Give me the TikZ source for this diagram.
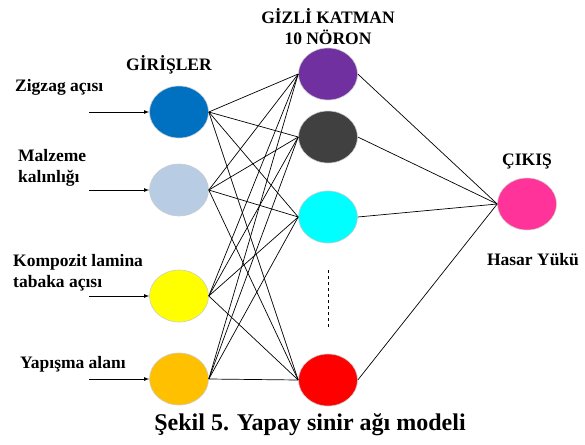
\documentclass[tikz,border=0pt]{standalone}
\usepackage{fontspec}
\setmainfont{Liberation Serif}
\usetikzlibrary{shapes.geometric}
\definecolor{cBlue}{HTML}{0070C0}
\definecolor{cLightBlue}{HTML}{B8CCE4}
\definecolor{cYellow}{HTML}{FFFF00}
\definecolor{cOrange}{HTML}{FFC000}
\definecolor{cPurple}{HTML}{7030A0}
\definecolor{cDark}{HTML}{404040}
\definecolor{cCyan}{HTML}{00FFFF}
\definecolor{cRed}{HTML}{FF0000}
\definecolor{cPink}{HTML}{FF3399}
\tikzset{
    neuron/.style={ellipse,minimum width=59pt,minimum height=52pt,inner sep=0pt,draw=black!20,line width=0.6pt},
    lbl/.style={font=\bfseries\fontsize{17.5}{21}\selectfont,inner sep=0pt,align=left},
}
\begin{document}
\begin{tikzpicture}[x=1pt,y=-1pt]
        \useasboundingbox (0,0) rectangle (585,444);
        % giris katmani
        \node[neuron,fill=cBlue] (I1) at (179,112) {};
        \node[neuron,fill=cLightBlue] (I2) at (179,190) {};
        \node[neuron,fill=cYellow] (I3) at (179,296) {};
        \node[neuron,fill=cOrange] (I4) at (179,379) {};
        % gizli katman
        \node[neuron,fill=cPurple] (H1) at (328,74) {};
        \node[neuron,fill=cDark] (H2) at (328,137) {};
        \node[neuron,fill=cCyan] (H3) at (328,217) {};
        \node[neuron,fill=cRed] (H4) at (328,380) {};
        % cikis
        \node[neuron,fill=cPink] (O1) at (527,204) {};
        \begin{scope}[lbl]
            \node[anchor=west] (L1) at (15,87) {Zigzag açısı};
            \node[anchor=west] (L2) at (18,168) {Malzeme\\kalınlığı};
            \node[anchor=west] (L3) at (13,273) {Kompozit lamina\\tabaka açısı};
            \node[anchor=west] (L4) at (20,364) {Yapışma alanı};
            \node (TIn) at (169,65) {GİRİŞLER};
            \node[align=center] (THid) at (328,27) {GİZLİ KATMAN\\10 NÖRON};
            \node (TOut) at (527,162) {ÇIKIŞ};
            \node (TLoad) at (533,260) {Hasar Yükü};
        \end{scope}
        \node[font=\bfseries\fontsize{24}{28}\selectfont,inner sep=0pt] (Cap) at (310,425) {Şekil 5. Yapay sinir ağı modeli};
        \begin{scope}[-latex,line width=0.8pt]
            \foreach \i in {1,...,4}{
                \coordinate (A\i) at (89,0|-I\i);
                \draw (A\i) -- (I\i.west);
            }
        \end{scope}
        \begin{scope}[line width=0.7pt]
            \foreach \i in {1,...,4}
                \foreach \j in {1,...,4}
                    \draw (I\i.east) -- (H\j.west);
            \foreach \j in {1,...,4}
                \draw (H\j.east) -- (O1.west);
        \end{scope}
        \draw[dashed,line width=0.6pt] ([yshift=-27pt]H3.south) -- ([yshift=27pt]H4.north);
    \end{tikzpicture}
\end{document}
